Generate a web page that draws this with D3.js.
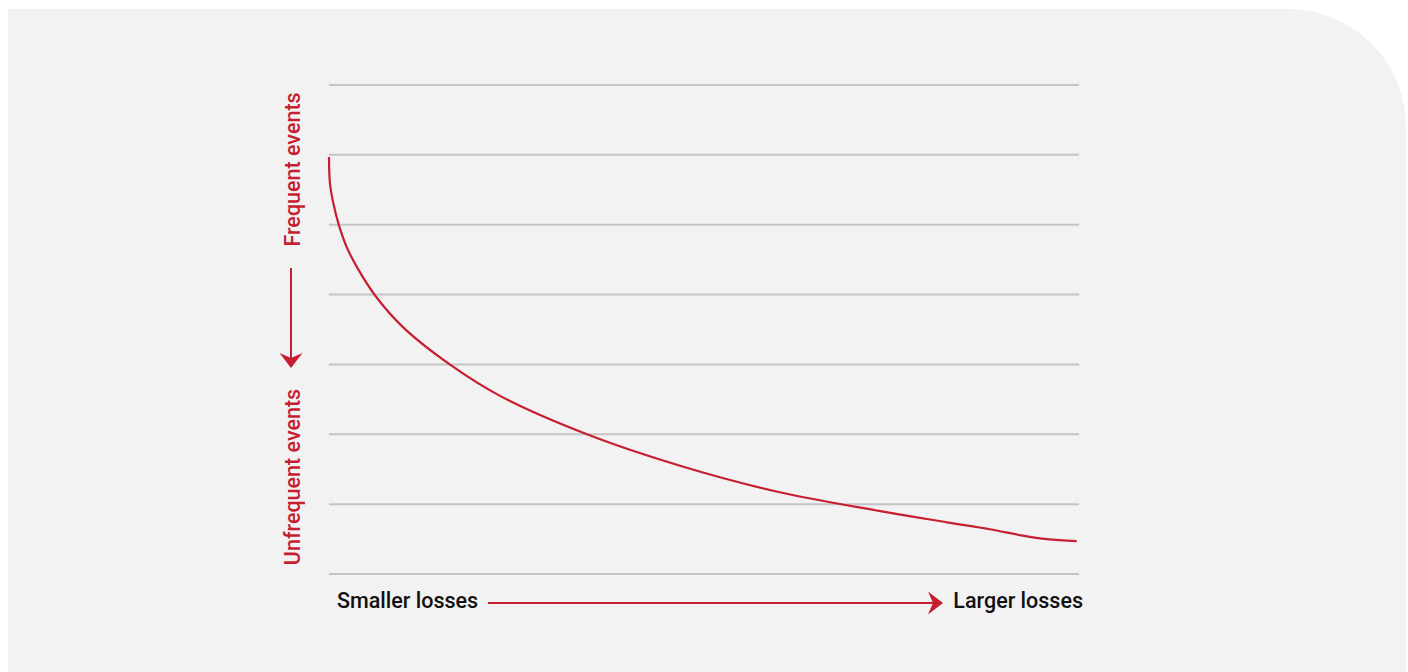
<!DOCTYPE html>
<html>
<head>
<meta charset="utf-8">
<script src="https://cdn.jsdelivr.net/npm/d3@7"></script>
<style>
  html, body { margin: 0; padding: 0; background: #ffffff; }
  svg { display: block; font-family: Roboto, "Noto Sans", sans-serif; }
</style>
</head>
<body>
<div id="chart"></div>
<script>
// loss size (0 = smallest, 100 = largest) and event frequency
var lossX      = [0, 0.13, 0.57, 1.33, 2.36, 3.69, 6.2, 10, 16.1, 22.8,
                  34.4, 46.8, 60.1, 73.5, 82.4, 88.1, 92.5, 95.7, 99.7];
var frequencyY = [5.97, 5.59, 5.31, 4.99, 4.68, 4.40, 3.98, 3.52, 3.0, 2.55,
                  2.0, 1.55, 1.17, 0.9, 0.74, 0.64, 0.55, 0.5, 0.47];

// horizontal grid levels
var gridLevels = [0, 1, 2, 3, 4, 5, 6, 7];

// axis labels
var xLabels = ["Smaller losses", "Larger losses"];
var yLabels = ["Frequent events", "Unfrequent events"];

var W = 1408, H = 672,
    red = "#c51f31", grid = "#c4c4c4", panel = "#f2f2f2";

var svg = d3.select("#chart").append("svg")
  .attr("width", W)
  .attr("height", H);

// arrowhead with a notched back
svg.append("defs").append("marker")
  .attr("id", "head")
  .attr("viewBox", "-16 -12 18 24")
  .attr("refX", 0).attr("refY", 0)
  .attr("markerUnits", "userSpaceOnUse")
  .attr("markerWidth", 18).attr("markerHeight", 24)
  .attr("orient", "auto")
  .append("path")
  .attr("d", "M1,0 L-14,-11.5 L-9,0 L-14,11.5 Z")
  .attr("fill", red);

// background panel, large rounded top-right corner
var px0 = 8, py0 = 9, px1 = 1406, r = 118;
svg.append("path")
  .attr("d", "M" + px0 + "," + py0 +
             " H" + (px1 - r) +
             " A" + r + "," + r + " 0 0 1 " + px1 + "," + (py0 + r) +
             " V" + H + " H" + px0 + " Z")
  .attr("fill", panel);

var x = d3.scaleLinear().domain([0, 100]).range([329, 1079]);
var y = d3.scaleLinear().domain([0, 7]).range([574, 85]);

// grid lines
svg.append("g").selectAll("line")
  .data(gridLevels)
  .enter().append("line")
  .attr("x1", x(0)).attr("x2", x(100))
  .attr("y1", function(d) { return y(d); })
  .attr("y2", function(d) { return y(d); })
  .attr("stroke", grid)
  .attr("stroke-width", 2);

// the curve
var points = lossX.map(function(v, i) { return [v, frequencyY[i]]; });
var line = d3.line()
  .x(function(d) { return x(d[0]); })
  .y(function(d) { return y(d[1]); })
  .curve(d3.curveCatmullRom.alpha(0.5));

svg.append("path")
  .datum(points)
  .attr("d", line)
  .attr("fill", "none")
  .attr("stroke", red)
  .attr("stroke-width", 2.2);

// bottom labels and arrow
svg.append("text")
  .attr("x", 337).attr("y", 608)
  .attr("font-size", 21.5).attr("font-weight", 500).attr("fill", "#111")
  .text(xLabels[0]);
svg.append("text")
  .attr("x", 1083).attr("y", 608)
  .attr("text-anchor", "end")
  .attr("font-size", 21.5).attr("font-weight", 500).attr("fill", "#111")
  .text(xLabels[1]);
svg.append("line")
  .attr("x1", 488).attr("x2", 942)
  .attr("y1", 603).attr("y2", 603)
  .attr("stroke", red).attr("stroke-width", 2)
  .attr("marker-end", "url(#head)");

// left labels and arrow
svg.append("text")
  .attr("transform", "translate(299.5,169.5) rotate(-90)")
  .attr("text-anchor", "middle")
  .attr("font-size", 21.5).attr("font-weight", 500).attr("fill", red)
  .text(yLabels[0]);
svg.append("text")
  .attr("transform", "translate(299.5,477) rotate(-90)")
  .attr("text-anchor", "middle")
  .attr("font-size", 21.5).attr("font-weight", 500).attr("fill", red)
  .text(yLabels[1]);
svg.append("line")
  .attr("x1", 291).attr("x2", 291)
  .attr("y1", 268).attr("y2", 367)
  .attr("stroke", red).attr("stroke-width", 2)
  .attr("marker-end", "url(#head)");
</script>
</body>
</html>
